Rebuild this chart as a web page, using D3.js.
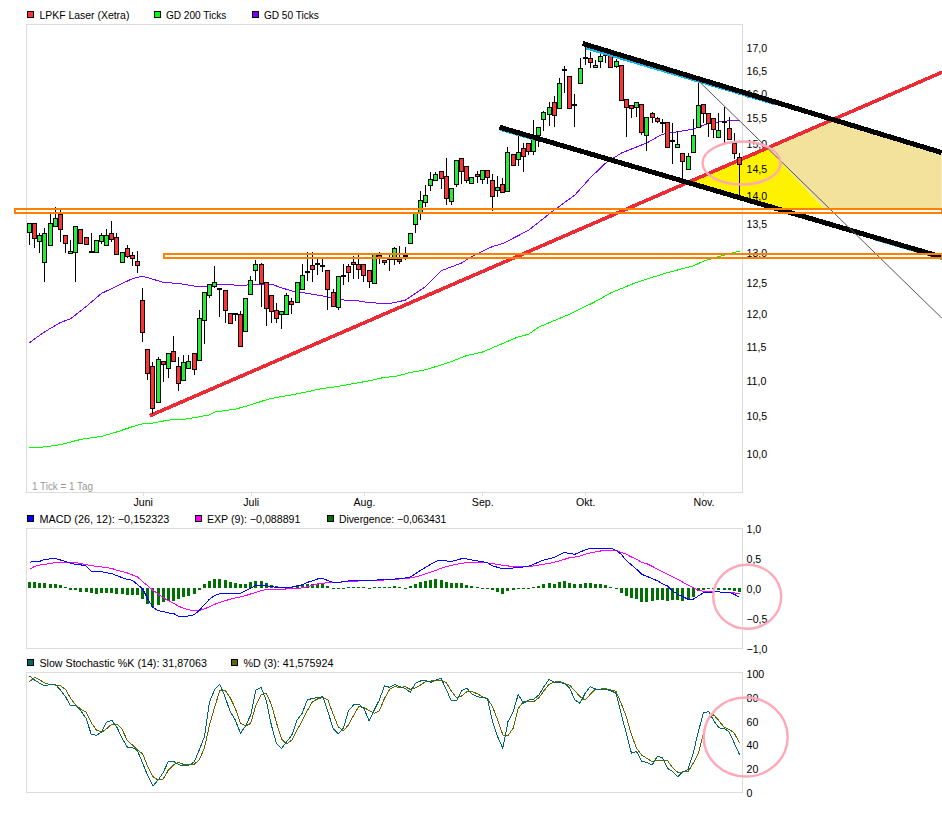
<!DOCTYPE html>
<html><head><meta charset="utf-8">
<script src="https://d3js.org/d3.v7.min.js"></script>
<style>
html,body{margin:0;padding:0;background:#fff;overflow:hidden}
text{font-family:"Liberation Sans",Arial,sans-serif;font-size:10.6px;fill:#000}
</style></head><body><svg id="c" width="942" height="817"></svg>
<script>
// ---- candles (one per trading day)
const opens=[13.34,13.5,13.19,12.85,13.12,13.45,13.67,13.29,13.0,13.0,
13.40,13.27,13.0,13.0,13.19,13.12,13.34,13.27,12.83,13.08,
12.95,12.85,12.22,11.46,11.20,10.69,11.28,11.18,11.42,11.21,
11.0,11.18,11.40,11.30,11.90,12.30,12.44,12.39,12.38,12.01,
12.0,11.99,11.73,12.30,12.70,12.80,12.5,12.29,12.05,11.99,
11.99,12.20,12.17,12.39,12.67,12.78,12.80,12.77,12.70,12.34,
12.10,12.60,12.77,12.83,12.80,12.80,12.70,12.48,12.95,12.87,
12.88,12.88,12.88,12.93,13.16,13.48,13.68,13.90,14.19,14.30,
14.45,14.36,13.90,14.21,14.70,14.55,14.23,14.41,14.30,14.47,
14.28,14.10,14.21,14.10,14.78,14.70,14.89,14.99,14.83,15.15,
15.47,15.59,15.82,15.69,16.49,16.37,15.77,16.22,16.75,16.77,
16.56,16.69,16.82,16.86,16.58,16.6,15.88,15.77,15.71,15.79,
15.15,15.59,15.49,15.39,15.41,15.03,14.91,14.8,14.49,14.81,
15.33,15.79,15.59,15.49,15.11,15.41,15.29,15.0,14.72];
const highs=[13.5,13.5,13.34,13.42,13.67,13.80,13.78,13.29,13.21,13.45,
13.41,13.27,13.33,13.21,13.34,13.41,13.55,13.34,13.0,13.12,
13.0,13.03,12.40,11.46,11.27,11.34,11.28,11.40,11.66,11.34,
11.37,11.37,11.40,12.06,12.35,12.47,12.77,12.41,12.38,12.01,
12.0,12.04,12.25,12.61,12.87,12.82,12.5,12.29,12.17,12.04,
12.32,12.24,12.5,12.80,13.0,13.0,12.90,12.90,12.70,12.39,
12.60,12.80,12.80,12.93,12.95,12.80,12.70,12.97,13.0,12.87,
12.97,13.09,13.10,13.09,13.33,13.68,14.08,14.19,14.43,14.43,
14.45,14.70,14.14,14.66,14.70,14.55,14.34,14.45,14.47,14.47,
14.40,14.37,14.32,14.91,14.78,15.15,14.99,14.99,15.45,15.31,
15.63,15.82,15.94,16.32,16.58,16.37,15.98,16.75,17.0,16.9,
16.71,16.85,16.86,16.86,16.73,16.6,15.88,15.77,15.82,15.79,
15.51,15.61,15.51,15.47,15.41,15.39,15.23,14.8,14.8,15.47,
16.29,15.79,15.59,15.49,15.59,15.73,15.51,15.2,14.8];
const lows=[13.12,13.08,12.99,12.5,13.12,13.45,13.17,12.99,13.0,12.5,
13.15,13.14,13.0,13.0,13.15,13.12,13.17,12.98,12.82,12.9,
12.77,12.65,11.56,11.0,10.53,10.69,10.98,11.03,11.27,10.84,
11.0,11.18,11.08,11.30,11.53,12.25,12.41,11.94,11.85,11.85,
11.88,11.50,11.73,12.30,12.52,12.10,11.80,11.85,11.85,11.76,
11.99,12.0,12.17,12.39,12.52,12.5,12.62,12.67,12.05,12.10,
12.05,12.45,12.5,12.55,12.55,12.5,12.40,12.48,12.80,12.78,
12.68,12.78,12.80,12.87,13.16,13.34,13.56,13.79,14.09,14.30,
14.12,13.83,13.83,14.15,14.21,14.23,14.23,14.23,14.21,14.21,
13.72,13.98,14.06,14.10,14.56,14.56,14.44,14.76,14.76,14.91,
15.23,15.33,15.31,15.69,16.0,15.67,15.32,16.22,16.6,16.54,
16.56,16.54,16.64,16.54,16.54,15.86,15.11,15.49,15.51,15.15,
14.85,15.39,15.39,15.19,14.91,14.6,14.91,14.23,14.49,14.81,
15.33,15.39,15.11,15.09,15.11,14.99,15.07,14.68,14.01];
const closes=[13.5,13.24,13.29,13.34,13.5,13.59,13.41,13.15,13.03,13.45,
13.15,13.15,13.0,13.21,13.29,13.29,13.24,12.98,13.0,12.95,
12.9,12.79,11.72,11.11,10.60,11.31,11.24,11.40,11.27,10.97,
11.26,11.28,11.17,11.93,12.35,12.47,12.5,12.38,12.06,11.85,
11.99,11.50,12.25,12.53,12.80,12.49,12.08,12.04,11.93,12.04,
12.29,12.15,12.5,12.62,12.67,12.72,12.80,12.75,12.39,12.12,
12.60,12.60,12.67,12.80,12.72,12.62,12.52,12.97,12.92,12.83,
12.87,13.07,12.85,12.93,13.33,13.68,13.92,14.02,14.30,14.41,
14.32,13.95,14.14,14.66,14.45,14.28,14.34,14.38,14.47,14.34,
13.99,14.15,14.06,14.83,14.56,14.83,14.74,14.83,15.07,15.31,
15.61,15.73,15.55,16.22,16.49,15.69,15.77,16.54,16.75,16.69,
16.6,16.8,16.82,16.56,16.69,15.86,15.71,15.71,15.82,15.23,
15.51,15.51,15.43,15.39,14.91,15.03,14.97,14.64,14.74,15.15,
15.77,15.61,15.39,15.27,15.25,15.41,15.07,14.8,14.58];

// ---- moving averages, read at the days listed
const gd200Days=[0,3,6,10,14,17,20,22,24,27,30,35,36,40,43,46,47,51,53,57,60,66,69,71,74,77,80,82,85,88,92,95,97,99,105,110,113,118,121,124,129,131,134,138];
const gd200=[10.07,10.08,10.11,10.18,10.22,10.28,10.35,10.39,10.40,10.44,10.45,10.51,10.55,10.59,10.65,10.72,10.74,10.79,10.82,10.88,10.91,10.99,11.04,11.05,11.11,11.15,11.22,11.27,11.36,11.41,11.54,11.64,11.68,11.79,11.99,12.19,12.33,12.50,12.58,12.66,12.77,12.85,12.93,13.02];
const gd50Days=[0,1,3,6,8,11,14,17,20,22,24,26,29,32,35,37,41,45,47,49,51,54,57,60,64,66,70,73,75,77,80,84,86,90,92,97,102,106,109,112,115,120,123,126,129,132,136,138];
const gd50=[11.55,11.61,11.72,11.86,11.92,12.11,12.32,12.44,12.56,12.60,12.55,12.50,12.48,12.44,12.44,12.47,12.45,12.47,12.47,12.41,12.36,12.32,12.28,12.22,12.20,12.17,12.16,12.21,12.32,12.43,12.69,12.82,12.93,13.10,13.15,13.38,13.74,14.01,14.33,14.61,14.80,15.0,15.17,15.22,15.27,15.39,15.44,15.44];

// ---- MACD pane
const macd=[.433,.45,.45,.483,.49,.5,.472,.45,.417,.4,.39,.372,.283,.28,.278,.26,.244,.21,.178,.15,.133,.06,-.01,-.18,-.32,-.37,-.39,-.41,-.42,-.47,-.47,-.46,-.44,-.37,-.27,-.18,-.12,-.09,-.09,-.09,-.09,-.083,-.04,0,.055,.055,.044,.028,.017,.006,.011,.02,.04,.06,.1,.122,.155,.167,.128,.1,.1,.11,.122,.128,.128,.128,.128,.133,.144,.155,.155,.155,.161,
.172,.19,.24,.3,.35,.4,.45,.467,.456,.45,.467,.494,.489,.472,.456,.444,.428,.372,.35,.322,.328,.339,.344,.356,.367,.4,.44,.472,.494,.517,.556,.6,.578,.567,.606,.639,.667,.667,.667,.667,.667,.633,.567,.461,.39,.317,.233,.2,.161,.128,.078,.039,-.044,-.1,-.139,-.183,-.183,-.128,-.072,-.067,-.061,-.061,-.067,-.067,-.1,-.152];
const exp9=[.317,.367,.389,.4,.411,.428,.433,.433,.433,.428,.411,.394,.378,.367,.356,.344,.333,.3,.278,.256,.222,.189,.111,.039,-.033,-.094,-.156,-.206,-.25,-.3,-.333,-.361,-.367,-.367,-.344,-.306,-.267,-.233,-.206,-.183,-.161,-.144,-.122,-.094,-.067,-.039,-.022,-.017,-.017,-.017,-.011,-.006,0,.006,.028,.05,.072,.083,.094,.1,.1,.106,.111,.117,.122,.122,.122,.128,.133,.139,.144,.15,.156,
.161,.172,.189,.211,.244,.272,.3,.333,.361,.383,.4,.417,.428,.433,.433,.433,.422,.411,.4,.383,.372,.367,.367,.367,.367,.372,.389,.4,.417,.433,.456,.483,.511,.522,.539,.567,.589,.606,.622,.628,.633,.633,.6,.567,.522,.483,.433,.411,.367,.322,.278,.233,.194,.15,.1,.056,.011,-.033,-.05,-.056,-.056,-.061,-.067,-.067,-.078,-.089];
const divergence=[.106,.1,.094,.089,.078,.072,.061,.022,-.02,-.03,-.055,-.067,-.07,-.094,-.078,-.078,-.078,-.089,-.094,-.106,-.106,-.106,-.172,-.26,-.306,-.278,-.233,-.206,-.206,-.183,-.15,-.122,-.1,-.028,.072,.122,.156,.156,.133,.111,.089,.067,.072,.106,.122,.122,.089,.056,.039,.022,.011,.022,.056,.056,.067,.072,.072,.078,.039,.011,.011,.011,.022,.022,.022,.022,.006,.022,.022,.022,.022,.039,.022,
.006,.033,.067,.106,.122,.139,.156,.144,.106,.094,.094,.094,.056,.033,.017,.006,-.017,-.033,-.067,-.089,-.044,-.033,-.017,-.011,-.006,.017,.039,.078,.089,.078,.106,.122,.094,.067,.078,.089,.089,.078,.072,.056,.017,.011,-.072,-.122,-.167,-.178,-.222,-.222,-.211,-.2,-.2,-.206,-.194,-.2,-.211,-.178,-.144,-.044,-.028,-.011,-.012,-.02,-.025,-.035,-.045,-.063];

// ---- Stochastic pane
const stochK=[98.3,94.9,92.1,89.9,91.3,91.3,86.5,80.8,73,73,68.7,62.5,49,48.2,50.7,59.4,60.8,54.9,45.6,38.3,38,34.9,24.5,13.8,5.4,10.4,16.9,26.2,26.2,23.4,22.3,23.1,25.6,35.8,47,76.6,87,91.3,80.8,68.2,61.1,49.9,56.1,65.4,86.5,88.5,78,56.9,41.4,37.2,42.8,48.5,61.1,66.8,78,79.4,80,80.8,68.2,54.1,49.3,54.1,69,73.8,74.4,71,60.3,69.6,78,90.1,88.7,91,89.3,
87.9,84.5,92.1,94.1,94.4,93,94.9,96.3,87,77.2,77.5,85.9,87.9,83.1,80.8,80,79.4,59.7,47,37.2,59.7,68.2,82.8,75.2,78,78.6,82.3,89.3,95.5,93,92.7,92.1,87.9,78,75.2,83.7,89.3,87.3,87,87,85.9,83.7,66.2,49.9,33,34.4,25.9,25.4,23.1,30.1,29.6,20.3,17.5,13.2,17.2,19.4,33,51.3,67.3,68.2,60.6,54.4,54.1,51,41.4,31.87];
const stochD=[93.5,97.2,94.9,92.4,91,90.7,90.1,87,79.4,73.8,70.1,67.9,58.9,52.7,50.7,53.8,57.7,57.7,53.2,43.9,40,35.8,32.4,21.7,13.2,10.4,11.3,18.9,23.1,25.4,23.4,23.4,23.7,27.3,37.7,56.9,72.4,85.9,86.5,80,71,58.3,56.1,58.3,73.8,82.3,83.7,74.4,58.9,44.8,40.8,44.2,52.7,60.3,69,76.6,78.9,80,78,66.2,55.5,52.1,56.9,65.1,72.4,71.8,69,66.8,68.7,79.4,87,89.3,88.7,
89.3,87,88.2,90.7,93.5,94.1,94.4,94.4,92.7,85.6,80,81.4,85.1,85.1,83.4,80.8,79.2,72.4,61.1,48.5,47.9,54.1,71,76.6,76.6,76.6,80,85.9,91.3,93.2,93.5,92.1,90.4,85.9,80.8,78,82.8,87.3,87.3,87.6,86.5,85.4,75.2,63.9,48.5,37.2,31.3,28.7,25.9,26.8,27.3,26.8,20.8,16.9,17.2,17.5,24.5,33,49.9,62.5,65.4,60.6,54.9,53.2,49.9,41.58];

// ---- axes
const priceTicks=[10,10.5,11,11.5,12,12.5,13,13.5,14,14.5,15,15.5,16,16.5,17];
const macdTicks=[-1,-.5,0,.5,1];
const stochTicks=[0,20,40,60,80,100];
const monthDays=[22,43,65,88,108,131];
const monthLabels=["Juni","Juli","Aug.","Sep.","Okt.","Nov."];

// ---- hand-drawn annotations, given as [day, price]
const redTrend=[[23.5,10.5],[177.45,16.45]];
const channelUpper=[[107.6,17.08],[177.4,14.81]];
const channelLower=[[91.45,15.31],[177.4,12.92]];
const cyanUpper=[[108.2,16.98],[145,15.78]];
const cyanLowerA=[[91.5,15.26],[98.3,15.06]];
const cyanLowerB=[[164.4,13.22],[177.4,12.89]];
const thinLine=[[130,16.28],[177.4,11.93]];
const yellowZone=[[127.7,14.24],[143.5,14.90],[154.6,13.76],[146.5,13.76]];
const tanZone=[[143.5,14.90],[156.2,15.47],[177.4,14.81],[177.4,13.76],[154.6,13.76]];
const resistanceA=[-2.7,177.4,13.76,13.69];
const resistanceB=[26.3,177.4,12.97,12.91];
const ringPrice=[138.5,14.61];
const ringMacd=[139.6,-.14];
const ringStoch=[139.3,46.7];

// ---- legends
const legendMain=["LPKF Laser (Xetra)","GD 200 Ticks","GD 50 Ticks"];
const legendMainColors=["#ff3333","#00ff00","#7f00ff"];
const legendMacd=["MACD (26, 12): −0,152323","EXP (9): −0,088891","Divergence: −0,063431"];
const legendMacdColors=["#0000ff","#ff00ff","#006f00"];
const legendStoch=["Slow Stochastic %K (14): 31,87063","%D (3): 41,575924"];
const legendStochColors=["#006666","#666600"];

const L=26.5,R=742.5;
const svg=d3.select("#c");
const x=d3.scaleLinear().domain([0,138]).range([29,739]);
const px=i=>Math.round(x(i))+.5;
const yP=d3.scaleLog().domain([9.497,17.51]).range([492.5,24.5]);
const yM=d3.scaleLinear().domain([-1,1]).range([648.3,528.3]);
const yS=d3.scaleLinear().domain([0,100]).range([792.3,674]);
const comma=f=>d=>d3.format(f)(d).replace(".",",");

// pane frames
[[24.5,492.5],[528.5,648.5],[672.5,792.5]].forEach(([a,b])=>
  svg.append("rect").attr("x",L).attr("y",a).attr("width",R-L).attr("height",b-a)
    .attr("fill","#fff").attr("stroke","#dcdcdc").attr("shape-rendering","crispEdges"));

// shaded zones
const zone=d3.line().x(d=>x(d[0])).y(d=>yP(d[1]));
svg.append("path").attr("d",zone(tanZone)+"Z").attr("fill","#f3e29c");
svg.append("path").attr("d",zone(yellowZone)+"Z").attr("fill","#fff200");

// axes
function axis(scale,ticks,f,shift){
  const g=svg.append("g").attr("transform",`translate(${R},${shift})`)
    .call(d3.axisRight(scale).tickValues(ticks).tickFormat(f).tickSize(0).tickPadding(4));
  g.select(".domain").remove();
  g.attr("font-size",null).attr("font-family",null);
}
axis(yP,priceTicks,comma(".1f"),.8);
axis(yM,macdTicks,comma(".1f"),.8);
axis(yS,stochTicks,d3.format("d"),.3);
const bx=svg.append("g").attr("transform","translate(0,492.5)")
  .call(d3.axisBottom(d3.scaleLinear().domain(x.domain()).range(x.range().map(v=>v+.5)))
    .tickValues(monthDays).tickFormat((d,i)=>monthLabels[i]).tickSize(3).tickPadding(3));
bx.select(".domain").remove();
bx.selectAll("line").attr("stroke","#dcdcdc").attr("shape-rendering","crispEdges");
bx.attr("font-size",null).attr("font-family",null);

// "1 Tick = 1 Tag"
svg.append("text").attr("x",32).attr("y",490).style("fill","#999")
  .attr("textLength",61).attr("lengthAdjust","spacingAndGlyphs").text("1 Tick = 1 Tag");

// moving averages
const ln=(days,vals,yS_,col,w=1)=>svg.append("path")
  .attr("d",d3.line().x(d=>x(d)+.5).y((d,i)=>yS_(vals[i]))(days))
  .attr("fill","none").attr("stroke",col).attr("stroke-width",w).attr("shape-rendering","crispEdges");
const allDays=d3.range(139);
ln(gd200Days,gd200,yP,"#00ff00");
ln(gd50Days,gd50,yP,"#7f00ff");

// red trend line under the candles
const seg=(pts,col,w,sr="crispEdges")=>svg.append("path").attr("d",zone(pts)).attr("fill","none")
  .attr("stroke",col).attr("stroke-width",w).attr("shape-rendering",sr);
seg(redTrend,"#ee2a35",3.6);

// candles
const cg=svg.append("g").attr("shape-rendering","crispEdges");
cg.selectAll("line").data(allDays).join("line")
  .attr("x1",px).attr("x2",px).attr("y1",i=>yP(highs[i])).attr("y2",i=>yP(lows[i])).attr("stroke","#000");
cg.selectAll("rect").data(allDays).join("rect")
  .each(function(i){
    const t=yP(Math.max(opens[i],closes[i])),b=yP(Math.min(opens[i],closes[i]));
    const doji=Math.abs(opens[i]-closes[i])<=.02;
    const s=d3.select(this);
    if(doji){s.attr("x",px(i)-2.5).attr("y",Math.round(t)-1).attr("width",5).attr("height",2).attr("fill","#000");}
    else{s.attr("x",px(i)-2).attr("y",Math.round(t)+.5).attr("width",4).attr("height",Math.max(1,Math.round(b-t)))
      .attr("fill",closes[i]>opens[i]?"#22ee33":"#ff3333").attr("stroke","#000");}
  });

// channel, cyan, thin line
seg(cyanUpper,"#12b4e8",2.5);seg(cyanLowerA,"#12b4e8",2);seg(cyanLowerB,"#12b4e8",2);
seg(channelUpper,"#000",5);seg(channelLower,"#000",5);
seg(thinLine,"#555",1,"auto");

// resistance boxes
[resistanceA,resistanceB].forEach(([a,b,hi,lo])=>
  svg.append("rect").attr("x",x(a)).attr("width",x(b)-x(a)).attr("y",yP(hi)).attr("height",yP(lo)-yP(hi))
    .attr("fill","none").attr("stroke","#ff8000").attr("stroke-width",2).attr("shape-rendering","crispEdges"));

// MACD pane
const barG=svg.append("g").attr("shape-rendering","crispEdges");
barG.selectAll("rect").data(allDays).join("rect")
  .attr("x",i=>px(i)-1.5).attr("width",3)
  .attr("y",i=>Math.min(yM(0),yM(divergence[i])))
  .attr("height",i=>Math.max(1,Math.abs(yM(divergence[i])-yM(0))))
  .attr("fill","#007000");
ln(allDays,exp9,yM,"#ff00ff");
ln(allDays,macd,yM,"#0000ff");

// Stochastic pane
ln(allDays,stochD,yS,"#666600");
ln(allDays,stochK,yS,"#006666");

// pink rings
const ring=(cx,cy,rx,ry)=>svg.append("ellipse").attr("cx",cx).attr("cy",cy).attr("rx",rx).attr("ry",ry)
  .attr("fill","none").attr("stroke","#ffa8b8").attr("stroke-width",2.4);
ring(x(ringPrice[0]),yP(ringPrice[1]),39,21.5);
ring(x(ringMacd[0]),yM(ringMacd[1]),34,32);
ring(x(ringStoch[0]),yS(ringStoch[1]),42,39.5);

// legends
function legend(labels,colors,lefts,widths,cy){
  labels.forEach((t,i)=>{
    svg.append("rect").attr("x",lefts[i]+.5).attr("y",cy-3.5).attr("width",6).attr("height",6).attr("fill",colors[i])
      .attr("stroke","#000").attr("shape-rendering","crispEdges");
    svg.append("text").attr("x",lefts[i]+12.4).attr("y",cy).attr("dy",".35em")
      .attr("textLength",widths[i]).attr("lengthAdjust","spacingAndGlyphs").text(t);
  });
}
legend(legendMain,legendMainColors,[27,153.5,251.5],[90,60.5,55],15);
legend(legendMacd,legendMacdColors,[27,194.5,326.5],[130,93.5,107.5],519);
legend(legendStoch,legendStochColors,[27,231],[167.5,90],663);
</script></body></html>
